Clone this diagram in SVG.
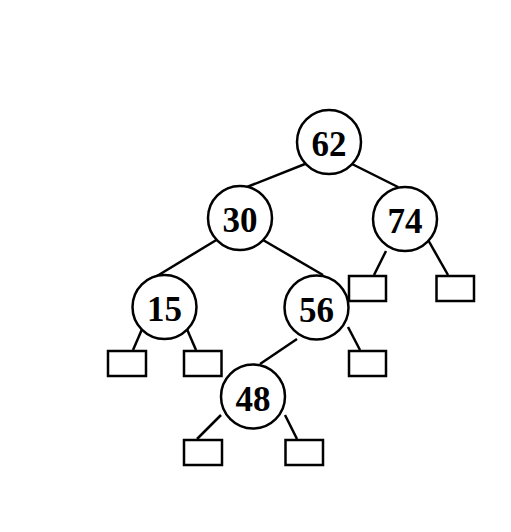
<svg xmlns="http://www.w3.org/2000/svg" width="511" height="532" viewBox="0 0 511 532">
<style>
.n circle{fill:#fff;stroke:#000;stroke-width:2.5}
.n text{font-family:"Liberation Serif",serif;font-weight:bold;font-size:35px;text-anchor:middle;fill:#000}
.leaf rect{fill:#fff;stroke:#000;stroke-width:2.5}
#edges line{stroke:#000;stroke-width:2.5}
</style>
<rect width="511" height="532" fill="#fff"/>
<g id="edges">
<line x1="310" y1="162" x2="247" y2="187"/>
<line x1="348" y1="162" x2="398" y2="187"/>
<line x1="218" y1="239" x2="157" y2="276"/>
<line x1="263" y1="240" x2="323" y2="275"/>
<line x1="386" y1="251" x2="374" y2="275"/>
<line x1="427" y1="238" x2="448" y2="275"/>
<line x1="143" y1="327" x2="133" y2="350"/>
<line x1="186" y1="327" x2="196" y2="350"/>
<line x1="297" y1="339" x2="260" y2="364"/>
<line x1="348" y1="327" x2="360" y2="350"/>
<line x1="221" y1="415" x2="197" y2="439"/>
<line x1="285" y1="415" x2="297" y2="439"/>
</g>
<g id="n62" class="n"><circle cx="329" cy="142" r="32"/><text x="329" y="156">62</text></g>
<g id="n30" class="n"><circle cx="240" cy="218" r="32"/><text x="240" y="232">30</text></g>
<g id="n74" class="n"><circle cx="405" cy="219" r="32"/><text x="405" y="233">74</text></g>
<g id="n15" class="n"><circle cx="164.5" cy="307" r="32"/><text x="164.5" y="321">15</text></g>
<g id="n56" class="n"><circle cx="316.5" cy="307.5" r="32"/><text x="316.5" y="321.5">56</text></g>
<g id="n48" class="n"><circle cx="253" cy="396.5" r="32"/><text x="253" y="410.5">48</text></g>
<g id="l74a" class="leaf"><rect x="349" y="276" width="37" height="25"/></g>
<g id="l74b" class="leaf"><rect x="436.5" y="276" width="37.5" height="25"/></g>
<g id="l15a" class="leaf"><rect x="108" y="351" width="38" height="25"/></g>
<g id="l15b" class="leaf"><rect x="184" y="351" width="37.5" height="25"/></g>
<g id="l56b" class="leaf"><rect x="349" y="351" width="37" height="25"/></g>
<g id="l48a" class="leaf"><rect x="184" y="440" width="38" height="25"/></g>
<g id="l48b" class="leaf"><rect x="285.5" y="440" width="37.5" height="25"/></g>
</svg>
